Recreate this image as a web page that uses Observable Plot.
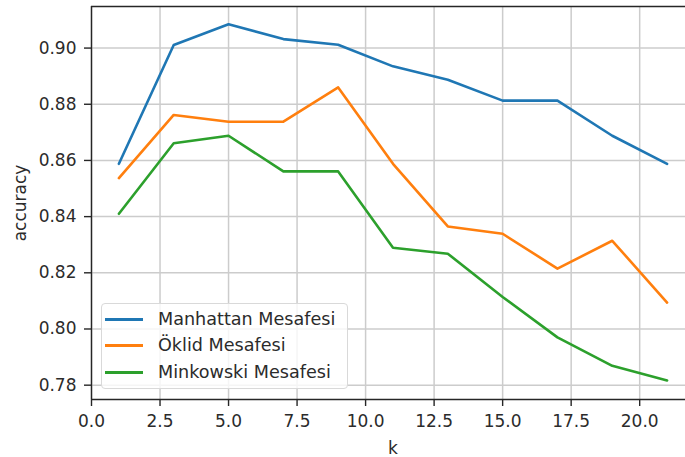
<!DOCTYPE html>
<html><head><meta charset="utf-8">
<script src="https://cdn.jsdelivr.net/npm/d3@7"></script>
<script src="https://cdn.jsdelivr.net/npm/@observablehq/plot@0.6"></script>
<style>
html,body{margin:0;padding:0;background:#fff;overflow:hidden;}
#wrap{position:relative;width:685px;height:457px;overflow:hidden;}
#legend{position:absolute;left:101px;top:303px;width:247px;height:86px;box-sizing:border-box;border:1px solid #d9d9d9;border-radius:4px;background:rgba(255,255,255,0.8);font-family:"DejaVu Sans";font-size:17.6px;color:#2b2b2b;}
.sw{position:absolute;left:3px;width:38px;height:3px;}
.lab{position:absolute;left:56px;white-space:nowrap;line-height:20px;}
</style></head>
<body>
<div id="wrap"></div>
<script>
const ks = [1, 3, 5, 7, 9, 11, 13, 15, 17, 19, 21];
const seriesNames = ["Manhattan Mesafesi", "Öklid Mesafesi", "Minkowski Mesafesi"];
const manhattan = [0.8588, 0.9011, 0.9085, 0.9032, 0.9012, 0.8935, 0.8887, 0.8813, 0.8813, 0.8688, 0.8588];
const oklid = [0.8537, 0.8762, 0.8738, 0.8738, 0.8860, 0.8588, 0.8365, 0.8339, 0.8215, 0.8314, 0.8094];
const minkowski = [0.8410, 0.8661, 0.8688, 0.8561, 0.8561, 0.8289, 0.8268, 0.8114, 0.7970, 0.7869, 0.7817];
const colors = ["#1f77b4", "#ff7f0e", "#2ca02c"];
const xTicks = [0, 2.5, 5, 7.5, 10, 12.5, 15, 17.5, 20];
const yTicks = [0.78, 0.80, 0.82, 0.84, 0.86, 0.88, 0.90];
const xDomain = [0, 22];
const yDomain = [0.7749, 0.9148];

const valuesBySeries = [manhattan, oklid, minkowski];
const rows = [];
seriesNames.forEach((name, i) => ks.forEach((k, j) => rows.push({k, acc: valuesBySeries[i][j], series: name})));

const gridColor = "#cccccc";
const spine = "#262626";

const plot = Plot.plot({
  width: 685, height: 457,
  marginLeft: 91, marginRight: -9, marginTop: 6, marginBottom: 58,
  style: {fontFamily: "DejaVu Sans", fontSize: "17px", color: "#2b2b2b", background: "#fff"},
  x: {domain: xDomain},
  y: {domain: yDomain},
  color: {domain: seriesNames, range: colors},
  marks: [
    Plot.ruleX(xTicks, {stroke: gridColor, strokeWidth: 1.5}),
    Plot.ruleY(yTicks, {stroke: gridColor, strokeWidth: 1.5}),
    Plot.line(rows, {x: "k", y: "acc", stroke: "series", strokeWidth: 2.6}),
    Plot.ruleX([xDomain[0]], {stroke: spine, strokeWidth: 1.4}),
    Plot.ruleY([yDomain[0]], {stroke: spine, strokeWidth: 1.4}),
    Plot.ruleY([yDomain[1]], {stroke: spine, strokeWidth: 1.4}),
    Plot.axisX({ticks: xTicks, tickFormat: d => d.toFixed(1), tickSize: 7, tickPadding: 8, stroke: spine, strokeWidth: 1.4,
      label: "k", labelAnchor: "center", labelArrow: "none", labelOffset: 54}),
    Plot.axisY({ticks: yTicks, tickFormat: d => d.toFixed(2), tickSize: 7, tickPadding: 8, stroke: spine, strokeWidth: 1.4,
      label: "accuracy", labelAnchor: "center", labelArrow: "none", labelOffset: 78})
  ]
});
const wrap = document.getElementById("wrap");
wrap.appendChild(plot);

const legend = d3.select(wrap).append("div").attr("id", "legend");
const rowCenters = [15, 41, 68];
seriesNames.forEach((name, i) => {
  legend.append("div").attr("class", "sw").style("top", (rowCenters[i] - 1.5) + "px").style("background", colors[i]);
  legend.append("div").attr("class", "lab").style("top", (rowCenters[i] - 10) + "px").text(name);
});
</script>
</body></html>
